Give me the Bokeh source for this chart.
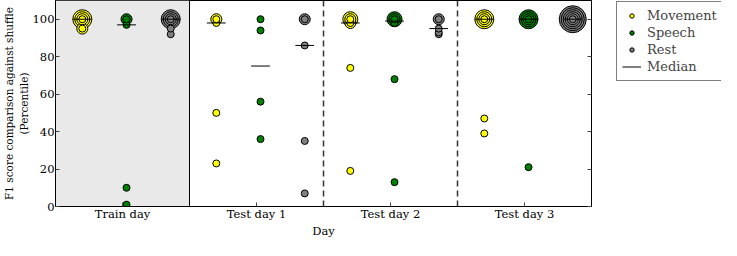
import numpy as np
from bokeh.plotting import figure
from bokeh.layouts import row
from bokeh.models import (ColumnDataSource, BoxAnnotation, Span, FixedTicker,
                          Legend, LegendItem, Range1d, LinearAxis)
from bokeh.embed import file_html
from bokeh.resources import INLINE

days = ["Train day", "Test day 1", "Test day 2", "Test day 3"]
classes = ["Movement", "Speech", "Rest"]

movement = [[100, 100, 100, 100, 95, 95],
            [100, 100, 98, 50, 23],
            [100, 100, 100, 98, 98, 74, 19],
            [100, 100, 100, 100, 47, 39]]
speech = [[100, 100, 97, 10, 1],
          [100, 94, 56, 36],
          [100, 100, 100, 98, 68, 13],
          [100, 100, 100, 100, 21]]
rest = [[100, 100, 100, 100, 95, 92],
        [100, 100, 86, 35, 7],
        [100, 100, 95, 93, 92],
        [100, 100, 100, 100, 100, 100]]
y_ticks = [0, 20, 40, 60, 80, 100]

series = {"Movement": movement, "Speech": speech, "Rest": rest}
colors = {"Movement": "#ffff00", "Speech": "#008000", "Rest": "#808080"}
offsets = {"Movement": -0.30, "Speech": 0.03, "Rest": 0.36}

FONT = "DejaVu Serif"
H = 240

p = figure(width=615, height=H, x_range=Range1d(-0.5, 3.5), y_range=Range1d(0, 110),
           output_backend="svg", toolbar_location=None,
           min_border_left=50, min_border_right=24, min_border_top=0, min_border_bottom=28)

p.add_layout(BoxAnnotation(left=-0.5, right=0.5, fill_color="#e9e9e9", fill_alpha=1.0,
                           line_alpha=0, level="underlay"))
p.add_layout(Span(location=0.5, dimension="height", line_color="black", line_width=1))
for loc in (1.5, 2.5):
    p.add_layout(Span(location=loc, dimension="height", line_color="#333333",
                      line_width=1.5, line_dash="6 4"))

# legend panel (same data sources, drawn outside its visible range)
lf = figure(width=106, height=H, x_range=Range1d(0, 1), y_range=Range1d(1000, 1001),
            x_axis_type=None, y_axis_type=None, output_backend="svg", toolbar_location=None,
            title=None, min_border=0, min_border_left=0, min_border_right=0,
            min_border_top=0, min_border_bottom=0)
lf.outline_line_color = None
items = []

mx, my = [], []
for cls in classes:
    xs, ys, sz = [], [], []
    for d, vals in enumerate(series[cls]):
        xpos = d + offsets[cls]
        uniq, counts = np.unique(np.array(vals, dtype=float), return_counts=True)
        for v, c in zip(uniq, counts):
            for k in range(c, 0, -1):
                xs.append(xpos)
                ys.append(v)
                sz.append(7 + (k - 1) * 4)
        mx.append(xpos)
        my.append(float(np.median(vals)))
    order = np.argsort(-np.array(sz), kind="stable")
    src = ColumnDataSource(dict(x=[xs[i] for i in order], y=[ys[i] for i in order],
                                s=[sz[i] for i in order]))
    p.scatter("x", "y", size="s", source=src, fill_color=colors[cls],
              line_color="black", line_width=1)
    r = lf.scatter("x", "y", size=6, source=src, fill_color=colors[cls],
                   line_color="black", line_width=1)
    items.append(LegendItem(label=cls, renderers=[r]))

msrc = ColumnDataSource(dict(x0=[x - 0.07 for x in mx], x1=[x + 0.07 for x in mx], y=my))
p.segment(x0="x0", y0="y", x1="x1", y1="y", source=msrc, line_color="black", line_width=1)
rm = lf.segment(x0="x0", y0="y", x1="x1", y1="y", source=msrc, line_color="black", line_width=1)
items.append(LegendItem(label="Median", renderers=[rm]))

p.xgrid.visible = False
p.ygrid.visible = False
p.outline_line_color = "black"
p.outline_line_alpha = 1
p.outline_line_width = 1

xa = p.xaxis[0]
xa.ticker = FixedTicker(ticks=[0, 1, 2, 3])
xa.major_label_overrides = {i: d for i, d in enumerate(days)}
xa.axis_label = "Day"
ya = p.yaxis[0]
ya.ticker = FixedTicker(ticks=y_ticks)
ya.axis_label = "F1 score comparison against shuffle\n(Percentile)"

ra = LinearAxis(ticker=FixedTicker(ticks=y_ticks))
p.add_layout(ra, "right")

for ax in (xa, ya, ra):
    ax.major_tick_in = 4
    ax.major_tick_out = 0
    ax.minor_tick_line_color = None
    ax.axis_line_color = "black"
    ax.major_tick_line_color = "#444444"
    ax.major_label_text_font = FONT
    ax.major_label_text_font_size = "11.5px"
    ax.major_label_text_color = "black"
    ax.major_label_text_line_height = 1.0
    ax.axis_label_text_font = FONT
    ax.axis_label_text_font_size = "11.5px"
    ax.axis_label_text_font_style = "normal"
    ax.axis_label_text_color = "black"
    ax.axis_label_text_line_height = 1.0
    ax.major_label_standoff = 0
    ax.axis_label_standoff = 0
ya.axis_label_text_font_size = "10.5px"
ya.axis_label_text_line_height = 1.2
ya.major_label_standoff = 1
ra.major_label_text_alpha = 0
ra.major_label_text_font_size = "1px"

legend = Legend(items=items, location="top_left")
legend.label_text_font = FONT
legend.label_text_font_size = "13px"
legend.label_height = 17
legend.glyph_height = 11
legend.glyph_width = 19
legend.label_standoff = 6
legend.spacing = 0
legend.padding = 5
legend.margin = 1
legend.border_line_color = "black"
legend.border_line_width = 1
legend.background_fill_alpha = 1
lf.add_layout(legend, "center")

layout = row(p, lf)
open("out.html", "w").write(file_html(layout, INLINE))
